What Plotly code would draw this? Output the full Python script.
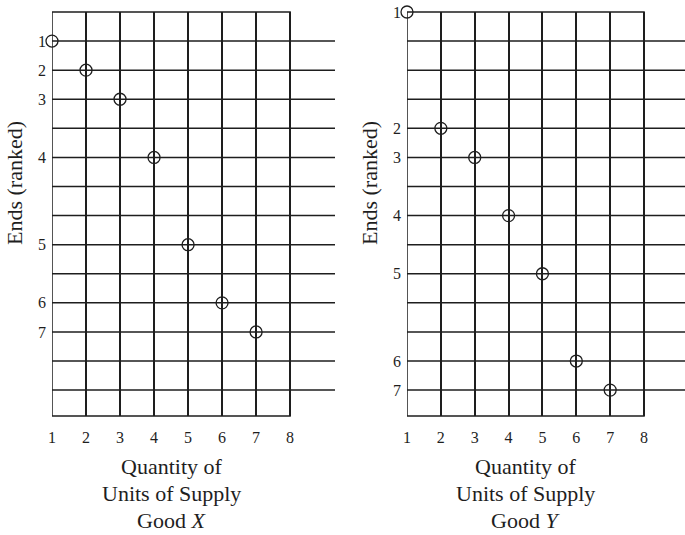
import plotly.graph_objects as go

# ---- data ----
quantity = [1, 2, 3, 4, 5, 6, 7]
rank_labels = ["1", "2", "3", "4", "5", "6", "7"]
# vertical position (grid row, counted from the top) of each ranked end
rows_x = [1, 2, 3, 5, 8, 10, 11]      # Good X
rows_y = [0, 4, 5, 7, 9, 12, 13]      # Good Y
grid_rows = list(range(1, 14))         # horizontal rule lines
x_ticks = [1, 2, 3, 4, 5, 6, 7, 8]
x_tick_text = ["1", "2", "3", "4", "5", "6", "7", "8"]
title_lines_x = ["Quantity of", "Units of Supply", "Good <i>X</i>"]
title_lines_y = ["Quantity of", "Units of Supply", "Good <i>Y</i>"]
y_title = "Ends (ranked)"

FONT = "Liberation Serif"
INK = "#1e1e1e"
LW = 1.5
W, H = 685, 535


def xp(px):
    return px / W


def yp(py):
    return 1 - py / H


fig = go.Figure()

panels = [
    dict(rows=rows_x, xa="x", ya="y", dom=[xp(52), xp(335)], xmax=9.32,
         ytitle=xp(14), lines=title_lines_x),
    dict(rows=rows_y, xa="x2", ya="y2", dom=[xp(407), 1.0], xmax=9.21,
         ytitle=xp(369), lines=title_lines_y),
]
ydom = [yp(416), yp(12)]
yrange = [13.89, 0]
title_ys = [466, 493, 520]

for i, p in enumerate(panels):
    fig.add_trace(go.Scatter(
        x=quantity, y=p["rows"], mode="markers",
        marker=dict(symbol="circle-open", size=12, color=INK, line=dict(width=1.3, color=INK)),
        cliponaxis=False, showlegend=False, hoverinfo="skip",
        xaxis=p["xa"], yaxis=p["ya"],
    ))
    sfx = "" if i == 0 else "2"
    fig.update_layout(**{
        "xaxis" + sfx: dict(
            domain=p["dom"], range=[1, p["xmax"]], anchor=p["ya"], automargin=False,
            tickmode="array", tickvals=x_ticks, ticktext=x_tick_text,
            showgrid=True, gridcolor=INK, gridwidth=LW, zeroline=False,
            showline=False, ticks="", ticklabelstandoff=10,
            tickfont=dict(family=FONT, size=16, color=INK),
        ),
        "yaxis" + sfx: dict(
            domain=ydom, range=yrange, anchor=p["xa"], automargin=False,
            tickmode="array", tickvals=p["rows"], ticktext=rank_labels,
            showgrid=False, zeroline=False, showline=False, ticks="",
            ticklabelstandoff=5, ticklabeloverflow="allow",
            tickfont=dict(family=FONT, size=16, color=INK),
        ),
    })
    xref = p["xa"]
    yref = p["ya"]
    # horizontal rule lines spanning full axis width
    for r in grid_rows:
        fig.add_shape(type="line", xref=xref + " domain", yref=yref,
                      x0=0, x1=1, y0=r, y1=r, line=dict(color=INK, width=LW), layer="below")
    # box around the quantity grid
    fig.add_shape(type="rect", xref=xref, yref=yref + " domain",
                  x0=x_ticks[0], x1=x_ticks[-1], y0=0, y1=1,
                  line=dict(color=INK, width=LW), layer="below")
    # x title, one annotation per line
    for line, ty in zip(p["lines"], title_ys):
        fig.add_annotation(text=line, xref=xref, yref="paper",
                           x=(x_ticks[0] + x_ticks[-1]) / 2, y=yp(ty),
                           showarrow=False, xanchor="center", yanchor="middle",
                           font=dict(family=FONT, size=22, color=INK))
    # y title
    fig.add_annotation(text=y_title, xref="paper", yref="paper",
                       x=p["ytitle"], y=yp(183), textangle=-90,
                       showarrow=False, xanchor="center", yanchor="middle",
                       font=dict(family=FONT, size=22, color=INK))

fig.update_layout(
    width=W, height=H, margin=dict(l=0, r=0, t=0, b=0, autoexpand=False),
    paper_bgcolor="white", plot_bgcolor="white", hovermode=False,
)

# remove the browser's default page margin so the figure fills the window
fig.write_html("out.html", config={"displayModeBar": False},
               post_script="document.body.style.margin='0px';")
